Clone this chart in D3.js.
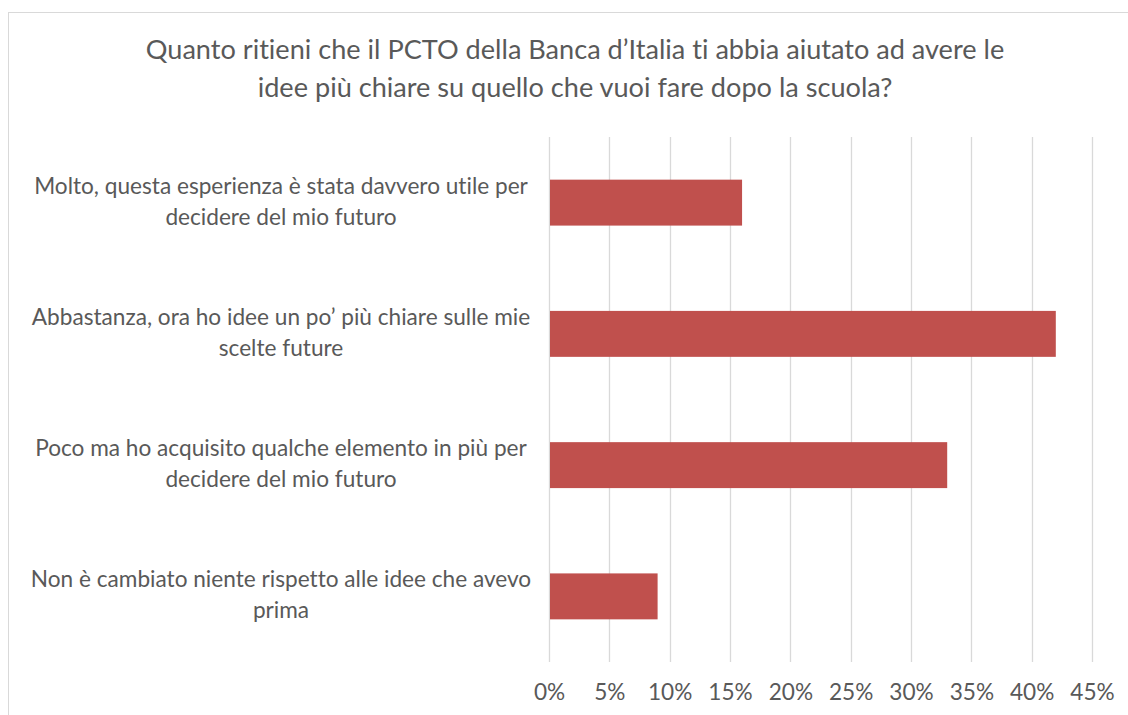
<!DOCTYPE html>
<html>
<head>
<meta charset="utf-8">
<script src="https://cdn.jsdelivr.net/npm/d3@7"></script>
<style>
  html, body { margin: 0; padding: 0; background: #fff; }
  svg { display: block; }
  text { font-family: Lato, "Open Sans", sans-serif; fill: #595959; font-variant-ligatures: none; font-feature-settings: "liga" 0, "dlig" 0; }
</style>
</head>
<body>
<svg id="chart" width="1128" height="715"></svg>
<script>
const titleLines = [
  "Quanto ritieni che il PCTO della Banca d\u2019Italia ti abbia aiutato ad avere le",
  "idee pi\u00f9 chiare su quello che vuoi fare dopo la scuola?"
];
const categories = [
  ["Molto, questa esperienza \u00e8 stata davvero utile per", "decidere del mio futuro"],
  ["Abbastanza, ora ho idee un po\u2019 pi\u00f9 chiare sulle mie", "scelte future"],
  ["Poco ma ho acquisito qualche elemento in pi\u00f9 per", "decidere del mio futuro"],
  ["Non \u00e8 cambiato niente rispetto alle idee che avevo", "prima"]
];
const values = [0.16, 0.42, 0.33, 0.09];
const ticks = [0, 0.05, 0.10, 0.15, 0.20, 0.25, 0.30, 0.35, 0.40, 0.45];

const W = 1128, H = 715;
const svg = d3.select("#chart");

// chart border
svg.append("rect")
  .attr("x", 8.5).attr("y", 12.5)
  .attr("width", 1140).attr("height", 720)
  .attr("fill", "#fff").attr("stroke", "#d9d9d9").attr("stroke-width", 1);

const plot = { left: 549, right: 1092, top: 137, bottom: 662 };

const x = d3.scaleLinear().domain([0, 0.45]).range([plot.left, plot.right]);
const keys = categories.map((c, i) => i);
const y = d3.scaleBand().domain(keys).range([plot.top, plot.bottom])
  .paddingInner(0.65).paddingOuter(0.325);

// gridlines
svg.append("g").selectAll("line").data(ticks).join("line")
  .attr("x1", d => Math.round(x(d)) + 0.5).attr("x2", d => Math.round(x(d)) + 0.5)
  .attr("y1", plot.top).attr("y2", plot.bottom)
  .attr("stroke", "#d9d9d9").attr("stroke-width", 1.3);

// bars
svg.append("g").selectAll("rect").data(values).join("rect")
  .attr("x", x(0) + 1)
  .attr("y", (d, i) => y(i))
  .attr("width", d => x(d) - x(0) - 1)
  .attr("height", y.bandwidth())
  .attr("fill", "#C0504D");

// x axis tick labels
const xAxis = d3.axisBottom(x).tickValues(ticks).tickSize(0).tickPadding(0)
  .tickFormat(d3.format(".0%"));
const gx = svg.append("g").attr("transform", `translate(0, 700)`).call(xAxis);
gx.select(".domain").remove();
gx.selectAll("text")
  .attr("dy", 0).attr("y", 0)
  .style("font-family", "Lato, 'Open Sans', sans-serif")
  .attr("fill", "#595959");

// helper: fit font size so a text matches target width
function fitSize(str, targetWidth, baseSize) {
  const t = svg.append("text").style("font-size", baseSize + "px").text(str);
  const w = t.node().getComputedTextLength();
  t.remove();
  return baseSize * targetWidth / w;
}

// title
const titleSize = fitSize(titleLines[0], 859, 24);
svg.append("g").selectAll("text").data(titleLines).join("text")
  .attr("x", 575).attr("y", (d, i) => 59 + i * 38)
  .attr("text-anchor", "middle")
  .style("font-size", titleSize + "px")
  .text(d => d);

// category labels
const labelSize = fitSize(categories[0][0], 494, 19);
const lg = svg.append("g");
categories.forEach((lines, i) => {
  const cy = y(i) + y.bandwidth() / 2;
  lines.forEach((ln, j) => {
    lg.append("text")
      .attr("x", 281)
      .attr("y", cy - 15.5 + j * 31 + 6.5)
      .attr("text-anchor", "middle")
      .style("font-size", labelSize + "px")
      .text(ln);
  });
});
gx.selectAll("text").style("font-size", labelSize + "px");
</script>
</body>
</html>
